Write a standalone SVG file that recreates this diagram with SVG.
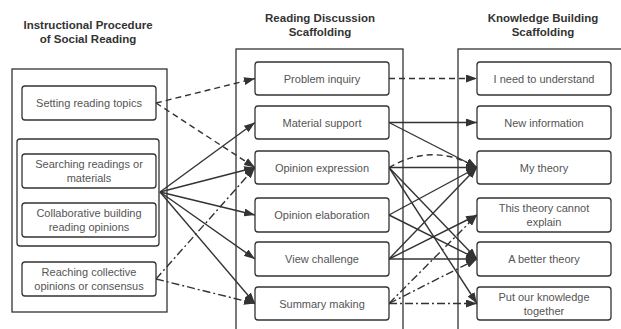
<svg xmlns="http://www.w3.org/2000/svg" width="621" height="329" viewBox="0 0 621 329">
<style>
.bg{fill:#fff}
.frame{fill:none;stroke:#333;stroke-width:1.3}
.node{fill:#fff;stroke:#333;stroke-width:1.3}
.title{font-family:"Liberation Sans",Arial,sans-serif;font-weight:bold;font-size:11.5px;fill:#333;text-anchor:middle}
.lbl{font-family:"Liberation Sans",Arial,sans-serif;font-size:11px;fill:#555;text-anchor:middle;dominant-baseline:central}
.c{fill:none;stroke:#333;stroke-width:1.4;marker-end:url(#ah)}
.dash{stroke-dasharray:6 4}
.dd{stroke-dasharray:8 3 2 3}
</style>
<defs>
<marker id="ah" markerUnits="userSpaceOnUse" markerWidth="11" markerHeight="8" refX="11" refY="4" orient="auto">
<path d="M0,0 L11,4 L0,8 z" fill="#333"/>
</marker>
</defs>
<rect class="bg" x="0" y="0" width="621" height="329"/>
<g id="titles">
<text class="title" x="88" y="29">Instructional Procedure</text>
<text class="title" x="88" y="43">of Social Reading</text>
<text class="title" x="320" y="22">Reading Discussion</text>
<text class="title" x="320" y="36">Scaffolding</text>
<text class="title" x="543" y="22">Knowledge Building</text>
<text class="title" x="543" y="36">Scaffolding</text>
</g>
<g id="containers">
<rect class="frame" x="12" y="69" width="155" height="243"/>
<rect class="frame" x="17" y="139" width="142" height="107" rx="3"/>
<rect class="frame" x="236" y="49" width="167" height="290"/>
<rect class="frame" x="458" y="49" width="180" height="290"/>
</g>
<g id="connectors">
<path class="c dash" d="M156,103 L255,78.5"/>
<path class="c dash" d="M156,103 L255,167.5"/>
<path class="c" d="M160,192 L255,122.5"/>
<path class="c" d="M160,192 L255,167.5"/>
<path class="c" d="M160,192 L255,215"/>
<path class="c" d="M160,192 L255,259"/>
<path class="c" d="M160,192 L255,303.5"/>
<path class="c dd" d="M156,279 L255,167.5"/>
<path class="c dd" d="M156,279 L255,303.5"/>
<path class="c dash" d="M389,78.5 L477,78.5"/>
<path class="c" d="M389,122.5 L477,122.5"/>
<path class="c" d="M389,122.5 L477,167.5"/>
<path class="c" d="M389,167.5 L477,167.5"/>
<path class="c dash" d="M389,167.5 Q433,142 477,167.5"/>
<path class="c" d="M389,167.5 L477,259"/>
<path class="c" d="M389,167.5 L477,303.5"/>
<path class="c" d="M389,215 L477,167.5"/>
<path class="c" d="M389,215 L477,259"/>
<path class="c" d="M389,259 L477,167.5"/>
<path class="c" d="M389,259 L477,215"/>
<path class="c" d="M389,259 L477,259"/>
<path class="c dd" d="M389,303.5 L477,215"/>
<path class="c dd" d="M389,303.5 L477,259"/>
<path class="c dd" d="M389,303.5 L477,303.5"/>
</g>
<g id="n-setting"><rect class="node" x="22" y="86" width="134" height="34" rx="3"/><text class="lbl" x="89" y="103">Setting reading topics</text></g>
<g id="n-searching"><rect class="node" x="22" y="154" width="134" height="34" rx="3"/><text class="lbl" x="89" y="164">Searching readings or</text><text class="lbl" x="89" y="178">materials</text></g>
<g id="n-collab"><rect class="node" x="22" y="203" width="134" height="34" rx="3"/><text class="lbl" x="89" y="213">Collaborative building</text><text class="lbl" x="89" y="227">reading opinions</text></g>
<g id="n-reaching"><rect class="node" x="22" y="262" width="134" height="34" rx="3"/><text class="lbl" x="89" y="272">Reaching collective</text><text class="lbl" x="89" y="286">opinions or consensus</text></g>
<g id="n-problem"><rect class="node" x="255" y="62" width="134" height="33" rx="3"/><text class="lbl" x="322" y="78.5">Problem inquiry</text></g>
<g id="n-material"><rect class="node" x="255" y="106" width="134" height="33" rx="3"/><text class="lbl" x="322" y="122.5">Material support</text></g>
<g id="n-expression"><rect class="node" x="255" y="151" width="134" height="33" rx="3"/><text class="lbl" x="322" y="167.5">Opinion expression</text></g>
<g id="n-elaboration"><rect class="node" x="255" y="198" width="134" height="34" rx="3"/><text class="lbl" x="322" y="215">Opinion elaboration</text></g>
<g id="n-challenge"><rect class="node" x="255" y="242" width="134" height="34" rx="3"/><text class="lbl" x="322" y="259">View challenge</text></g>
<g id="n-summary"><rect class="node" x="255" y="287" width="134" height="33" rx="3"/><text class="lbl" x="322" y="303.5">Summary making</text></g>
<g id="n-understand"><rect class="node" x="477" y="62" width="134" height="33" rx="3"/><text class="lbl" x="544" y="78.5">I need to understand</text></g>
<g id="n-newinfo"><rect class="node" x="477" y="106" width="134" height="33" rx="3"/><text class="lbl" x="544" y="122.5">New information</text></g>
<g id="n-mytheory"><rect class="node" x="477" y="151" width="134" height="33" rx="3"/><text class="lbl" x="544" y="167.5">My theory</text></g>
<g id="n-cannot"><rect class="node" x="477" y="198" width="134" height="34" rx="3"/><text class="lbl" x="544" y="208">This theory cannot</text><text class="lbl" x="544" y="222">explain</text></g>
<g id="n-better"><rect class="node" x="477" y="242" width="134" height="34" rx="3"/><text class="lbl" x="544" y="259">A better theory</text></g>
<g id="n-together"><rect class="node" x="477" y="287" width="134" height="33" rx="3"/><text class="lbl" x="544" y="296.5">Put our knowledge</text><text class="lbl" x="544" y="310.5">together</text></g>
</svg>
